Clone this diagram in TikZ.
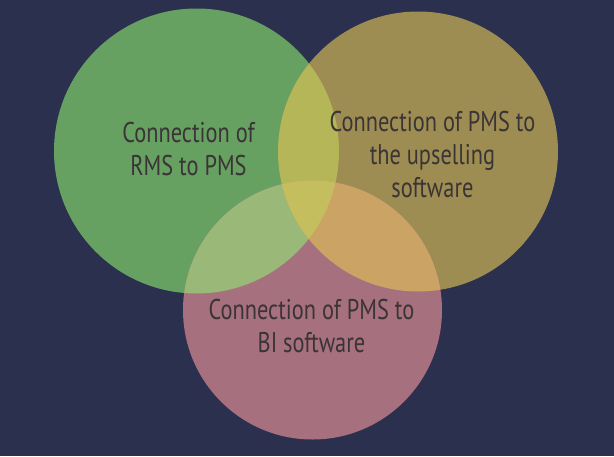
\documentclass[tikz,border=0pt]{standalone}
\usepackage{fontspec}
\setmainfont[FakeStretch=0.785]{PT Sans}
\usepackage{xcolor}
\usepackage{tikz}
\usetikzlibrary{positioning}

\definecolor{bg}{HTML}{2A304E}
\definecolor{rmsgreen}{HTML}{67A162}
\definecolor{upsgold}{HTML}{9E8D52}
\definecolor{bipink}{HTML}{A6707F}
\definecolor{greengold}{HTML}{B4B658}
\definecolor{greenpink}{HTML}{9AB877}
\definecolor{goldpink}{HTML}{CBA365}
\definecolor{allthree}{HTML}{C5BE5E}
\definecolor{txt}{HTML}{3A3437}

\tikzset{
  label text/.style={align=center, text=txt, font=\fontsize{28.5}{33}\selectfont, inner sep=0pt}
}

\begin{document}
\begin{tikzpicture}[x=1pt, y=-1pt]

\fill[bg] (0,0) rectangle (614,456);
\useasboundingbox (0,0) rectangle (614,456);

\coordinate (rms) at (196.5,151);
\coordinate (ups) at (418,151.5);
\coordinate (bi)  at (312.5,310);

% the three sets
\fill[rmsgreen] (rms) circle (142.5pt);
\fill[upsgold]  (ups) circle (140pt);
\fill[bipink]   (bi)  circle (129.5pt);

% pairwise overlaps
\begin{scope}
\clip (rms) circle (142.5pt);
\fill[greengold] (ups) circle (140pt);
\fill[greenpink] (bi) circle (129.5pt);
\end{scope}
\begin{scope}
\clip (ups) circle (140pt);
\fill[goldpink] (bi) circle (129.5pt);
\end{scope}

% middle
\begin{scope}
\clip (rms) circle (142.5pt);
\clip (ups) circle (140pt);
\fill[allthree] (bi) circle (129.5pt);
\end{scope}

\node[label text] (rmstext) at (188.5,149.5) {Connection of\\RMS to PMS};
\node[label text] (upstext) at (432.5,154.5) {Connection of PMS to\\the upselling\\software};
\node[label text] (bitext)  at (311.5,326.5) {Connection of PMS to\\BI software};

\end{tikzpicture}
\end{document}
